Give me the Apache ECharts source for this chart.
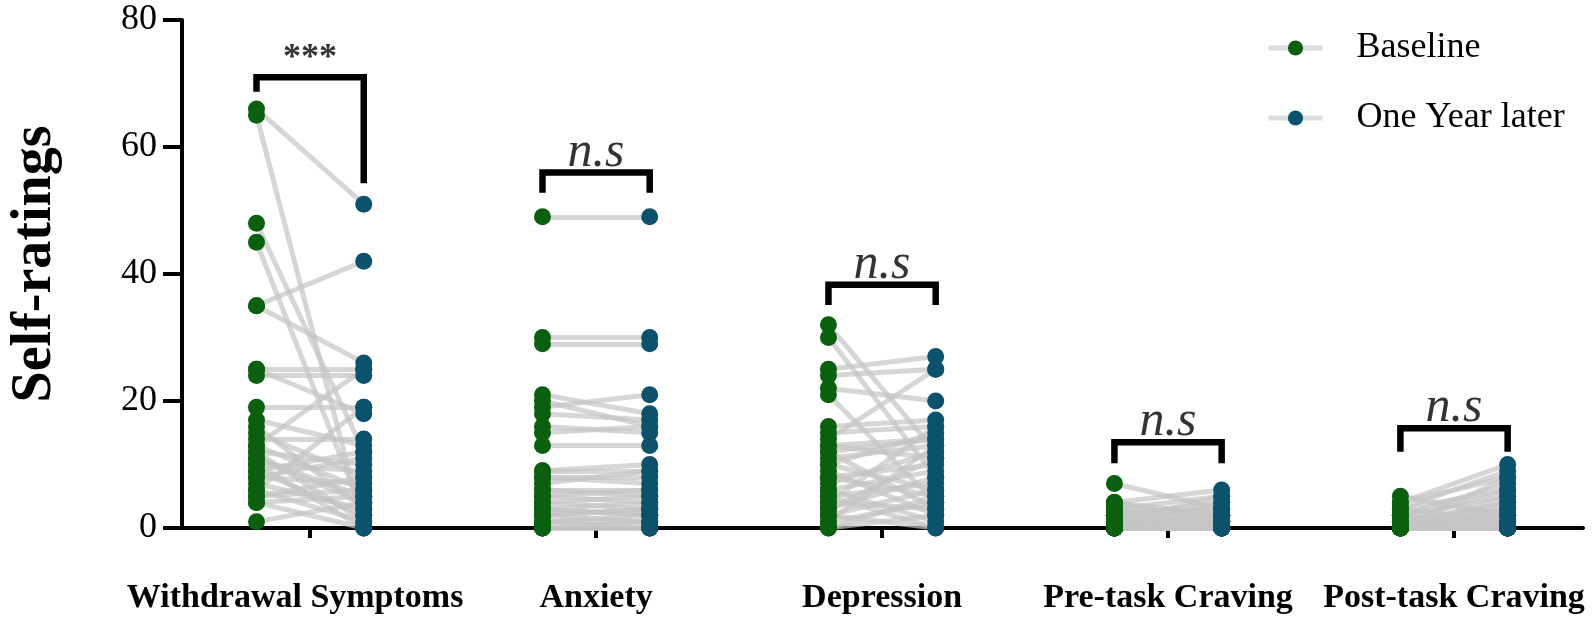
<!DOCTYPE html>
<html>
<head>
<meta charset="utf-8">
<script src="https://cdn.jsdelivr.net/npm/echarts@6/dist/echarts.min.js"></script>
<style>html,body{margin:0;padding:0;background:#fff}#c{width:1595px;height:622px}</style>
</head>
<body>
<div id="c"></div>
<script>
// ---- data ----
const categories = ['Withdrawal Symptoms', 'Anxiety', 'Depression', 'Pre-task Craving', 'Post-task Craving'];
const yTicks = [0, 20, 40, 60, 80];

const withdrawalBaseline = [66, 65, 48, 45, 35, 35, 25, 25, 24, 19, 17, 16, 15, 14, 13, 12, 12, 11, 11, 10, 10, 9, 9, 8, 8, 7, 6, 6, 5, 5, 4, 4, 1, 13];
const withdrawalOneYear  = [51, 0, 12, 2, 42, 26, 25, 18, 24, 19, 13, 3, 8, 14, 6, 10, 1, 5, 4, 0, 9, 12, 2, 7, 11, 3, 19, 1, 6, 8, 5, 0, 4, 25];

const anxietyBaseline = [49, 30, 29, 21, 20, 19, 18, 16, 15, 13, 9, 9, 8, 8, 7, 6, 6, 5, 5, 4, 4, 3, 3, 2, 2, 1, 1, 1, 0, 0, 0, 0, 3, 2];
const anxietyOneYear  = [49, 30, 29, 18, 16, 21, 17, 15, 16, 13, 10, 9, 8, 7, 9, 6, 5, 6, 4, 5, 3, 4, 2, 3, 1, 2, 0, 1, 0, 1, 0, 0, 2, 3];

const depressionBaseline = [32, 30, 25, 24, 22, 21, 16, 15, 14, 13, 12, 12, 11, 10, 10, 9, 8, 8, 7, 6, 6, 5, 5, 4, 4, 3, 3, 2, 2, 1, 1, 0, 0, 13];
const depressionOneYear  = [12, 8, 27, 25, 20, 4, 17, 16, 25, 11, 14, 3, 13, 6, 15, 2, 10, 5, 12, 9, 1, 7, 0, 16, 3, 8, 11, 6, 0, 4, 13, 2, 5, 14];

const preCravingBaseline = [7, 4, 4, 3, 3, 3, 2, 2, 2, 2, 1, 1, 1, 1, 1, 0, 0, 0, 0, 0, 0, 0, 0, 0, 0, 0, 4, 3, 2, 1, 0, 0, 0, 0];
const preCravingOneYear  = [3, 6, 1, 5, 2, 0, 4, 1, 3, 0, 2, 0, 5, 1, 0, 3, 1, 0, 2, 0, 0, 1, 0, 4, 0, 0, 2, 0, 3, 1, 0, 0, 2, 0];

const postCravingBaseline = [5, 4, 4, 3, 3, 2, 2, 2, 1, 1, 1, 1, 0, 0, 0, 0, 0, 0, 0, 0, 0, 0, 0, 0, 0, 0, 3, 2, 1, 0, 0, 0, 0, 0];
const postCravingOneYear  = [2, 10, 8, 9, 1, 7, 0, 5, 6, 3, 0, 4, 2, 8, 1, 0, 3, 0, 5, 0, 1, 0, 2, 0, 4, 0, 6, 0, 1, 0, 3, 0, 0, 2];

// significance brackets (data units)
const sigLabels      = ['***', 'n.s', 'n.s', 'n.s', 'n.s'];
const bracketTop     = [71, 56, 38.3, 13.5, 15.7];
const bracketLeftEnd = [68.7, 52.8, 35.1, 10.2, 12];
const bracketRightEnd= [54.3, 52.8, 35.1, 10.2, 12];

// ---- build ----
const baselineSets = [withdrawalBaseline, anxietyBaseline, depressionBaseline, preCravingBaseline, postCravingBaseline];
const oneYearSets  = [withdrawalOneYear, anxietyOneYear, depressionOneYear, preCravingOneYear, postCravingOneYear];
const OFF = 0.1875;
const SERIF = 'Liberation Serif, Times New Roman, serif';

const connectors = [], basePts = [], yearPts = [];
baselineSets.forEach((b, ci) => {
  const f = oneYearSets[ci];
  b.forEach((v, i) => {
    connectors.push({ coords: [[ci - OFF, v], [ci + OFF, f[i]]] });
    basePts.push([ci - OFF, v]);
    yearPts.push([ci + OFF, f[i]]);
  });
});

const series = [
  {
    type: 'lines', coordinateSystem: 'cartesian2d', silent: true, z: 1,
    lineStyle: { color: '#c4c4c4', width: 5, opacity: 0.7 },
    data: connectors
  },
  {
    name: 'Baseline', type: 'line', data: basePts, z: 3,
    symbol: 'circle', symbolSize: 17, showAllSymbol: true,
    itemStyle: { color: '#0a600e' },
    lineStyle: { opacity: 0, width: 0 }, silent: true
  },
  {
    name: 'One Year later', type: 'line', data: yearPts, z: 3,
    symbol: 'circle', symbolSize: 17, showAllSymbol: true,
    itemStyle: { color: '#0c526c' },
    lineStyle: { opacity: 0, width: 0 }, silent: true
  }
];

categories.forEach((c, ci) => {
  series.push({
    type: 'line', silent: true, z: 4, symbol: 'none',
    lineStyle: { color: '#000', width: 6.5, cap: 'butt', join: 'miter' },
    data: [[ci - OFF, bracketLeftEnd[ci]], [ci - OFF, bracketTop[ci]], [ci + OFF, bracketTop[ci]], [ci + OFF, bracketRightEnd[ci]]]
  });
});

series.push({
  type: 'scatter', silent: true, z: 5, symbolSize: 0,
  data: sigLabels.map((s, ci) => ({
    value: [ci, bracketTop[ci]],
    label: {
      show: true, position: 'top', distance: s === '***' ? 0 : -5,
      formatter: s,
      fontFamily: SERIF, color: '#000',
      fontSize: s === '***' ? 36 : 50,
      fontWeight: s === '***' ? 'bold' : 'normal',
      fontStyle: s === '***' ? 'normal' : 'italic'
    }
  }))
});

const labelFont = { fontFamily: SERIF, fontWeight: 'bold', fontSize: 34, color: '#000' };

const chart = echarts.init(document.getElementById('c'), null, { renderer: 'canvas' });
chart.setOption({
  animation: false,
  backgroundColor: '#fff',
  grid: { left: 172, right: 12, top: 20, bottom: 94, containLabel: false },
  legend: {
    data: ['Baseline', 'One Year later'],
    orient: 'vertical', left: 1261, top: 24,
    itemWidth: 54, itemHeight: 19, itemGap: 32,
    lineStyle: { color: '#dcdcdc', width: 5, opacity: 1 },
    textStyle: { fontFamily: SERIF, fontSize: 36, color: '#000', lineHeight: 38, padding: [0, 0, 0, 29] },
    selectedMode: false
  },
  xAxis: {
    type: 'value', min: -0.448, max: 4.451,
    splitLine: { show: false },
    axisLine: { onZero: false, lineStyle: { color: '#000', width: 4 } },
    axisTick: { show: true, customValues: [0, 1, 2, 3, 4], length: 10, lineStyle: { color: '#000', width: 4 } },
    axisLabel: Object.assign({
      customValues: [0, 1, 2, 3, 4],
      formatter: v => {
        const i = Math.round(v);
        return i === 0 ? '{w|' + categories[i] + '}' : categories[i];
      },
      margin: 53,
      rich: { w: Object.assign({ padding: [0, 30, 0, 0] }, labelFont) }
    }, labelFont)
  },
  yAxis: {
    type: 'value', min: 0, max: 80, interval: 20,
    name: 'Self-ratings', nameLocation: 'middle', nameGap: 118,
    nameTextStyle: { fontFamily: SERIF, fontWeight: 'bold', fontSize: 56, color: '#000', padding: [0, 0, 0, 20] },
    splitLine: { show: false },
    axisLine: { show: true, onZero: false, lineStyle: { color: '#000', width: 4 } },
    axisTick: { show: true, length: 19, lineStyle: { color: '#000', width: 4 } },
    axisLabel: {
      customValues: yTicks,
      fontFamily: SERIF, fontSize: 36, color: '#000', margin: 25
    }
  },
  series: series
});
</script>
</body>
</html>
